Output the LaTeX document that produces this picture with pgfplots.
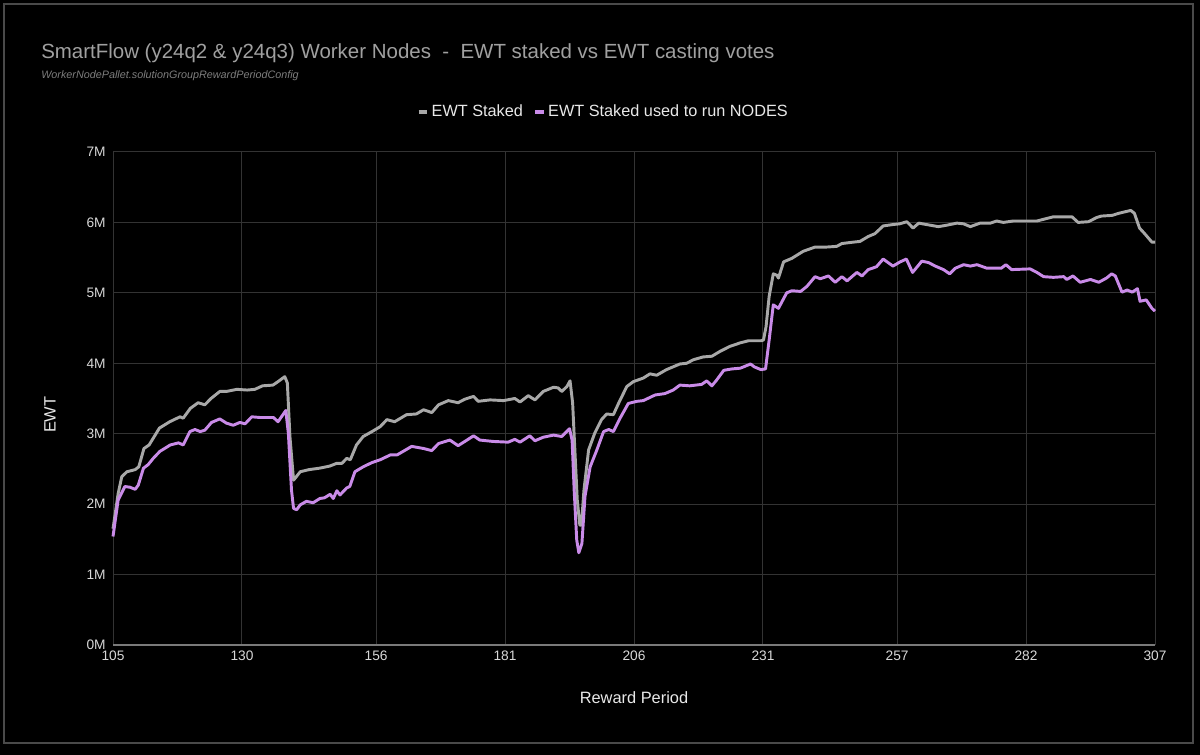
\documentclass[border=0pt]{standalone}
\usepackage{fontspec}
\setmainfont{Liberation Sans}
\usepackage{pgfplots}
\pgfplotsset{compat=1.18}
\definecolor{frameline}{HTML}{4A4A4A}
\definecolor{gridc}{HTML}{333333}
\definecolor{zeroline}{HTML}{7A7A7A}
\definecolor{stakegray}{HTML}{A8A8A8}
\definecolor{nodepurple}{HTML}{C98BE8}
\definecolor{titlegray}{HTML}{A0A0A0}
\definecolor{subgray}{HTML}{7E7E7E}
\definecolor{textc}{HTML}{E8E8E8}
\definecolor{tickc}{HTML}{D8D8D8}

\pgfplotstableread{
p v
105 1.65
106 2.15
106.7 2.39
107.7 2.46
109.3 2.49
110 2.53
111 2.79
112 2.84
114 3.08
116 3.17
118 3.24
118.6 3.22
120 3.36
121.5 3.44
122.8 3.41
124 3.50
125.7 3.60
127 3.60
129 3.63
131 3.62
132.5 3.63
134 3.68
136 3.69
137 3.74
138.3 3.81
138.8 3.72
139.3 2.96
140 2.34
141.3 2.46
143 2.49
145 2.51
147 2.54
148.4 2.58
149.4 2.58
150.3 2.65
151 2.63
152.2 2.84
153.5 2.96
155.2 3.03
156.8 3.10
158.1 3.20
159.6 3.17
161.9 3.27
163.8 3.28
165.2 3.34
166.8 3.30
168.1 3.41
170 3.47
171.9 3.44
173.2 3.49
174.9 3.53
175.8 3.46
178.1 3.48
180.7 3.47
182.9 3.50
183.9 3.45
185.5 3.54
186.8 3.48
188.4 3.60
190.4 3.66
191.3 3.65
192 3.60
193 3.67
193.6 3.75
194.1 3.44
194.6 2.67
195 2.06
195.5 1.70
195.8 1.70
196.3 2.20
197.2 2.77
198.4 3.01
199.7 3.20
200.7 3.28
202 3.27
203 3.43
204.6 3.67
205.9 3.74
207.8 3.79
209.1 3.85
210.4 3.83
212.3 3.91
213.6 3.95
214.9 3.99
216.2 4.00
217.5 4.05
219.4 4.09
221.1 4.10
222.7 4.17
224.6 4.24
226.6 4.29
228.2 4.32
230.6 4.32
231.1 4.33
231.6 4.52
232.2 4.95
233 5.27
233.7 5.25
234 5.21
235 5.44
236.6 5.49
238.8 5.59
241.1 5.65
243.3 5.65
245.3 5.66
246.3 5.70
248.5 5.72
249.8 5.73
251.4 5.80
252.7 5.84
254.3 5.95
256.2 5.97
257.5 5.98
258.9 6.01
260.1 5.92
261.2 5.99
262.7 5.97
265 5.94
266.6 5.96
268.6 5.99
269.9 5.98
271.2 5.94
273.1 5.99
275.1 5.99
276.3 6.02
277.6 6.00
279.5 6.02
281.5 6.02
284.1 6.02
285.7 6.05
287.3 6.08
289.3 6.08
290.9 6.08
292.1 6.00
294.1 6.01
295.7 6.07
296.6 6.09
298.7 6.10
300 6.13
302.3 6.17
303 6.13
304 5.92
305 5.84
306.4 5.72
307 5.72
}\staked

\pgfplotstableread{
p v
105 1.54
106 2.06
107.3 2.25
108.3 2.24
109.3 2.21
109.9 2.27
110.9 2.51
111.8 2.56
112.8 2.65
114.1 2.75
115 2.79
116.1 2.84
117.7 2.87
118.6 2.84
119.9 3.03
120.9 3.06
121.9 3.03
122.8 3.05
124.1 3.16
125.7 3.21
127 3.15
128.3 3.12
129.6 3.16
130.6 3.14
131.9 3.24
133.5 3.23
136.1 3.23
137 3.17
138.5 3.33
139 3.00
139.6 2.20
140 1.94
140.6 1.92
141.3 1.99
142.5 2.04
143.8 2.02
145.1 2.08
146 2.09
147.1 2.14
147.7 2.08
148.4 2.19
149 2.13
150.3 2.23
150.9 2.25
151.9 2.46
153.5 2.53
155.2 2.59
156.8 2.63
158.8 2.70
160.1 2.70
162.9 2.82
165.2 2.79
166.8 2.76
168.1 2.86
170.3 2.91
171.9 2.83
173.2 2.89
174.9 2.97
176.1 2.91
178.7 2.89
181.6 2.88
182.9 2.92
183.9 2.88
185.8 2.97
186.8 2.90
188.4 2.95
190.4 2.98
192 2.96
193.5 3.07
194 2.91
194.4 2.20
194.9 1.49
195.3 1.31
195.9 1.44
196.5 2.11
197.5 2.53
198.8 2.77
200.1 3.03
201.1 3.06
202 3.03
203.3 3.22
204.9 3.43
206.6 3.46
207.8 3.47
210.1 3.55
212 3.57
213.6 3.62
214.9 3.69
216.8 3.68
219.1 3.70
220.1 3.75
221.1 3.68
222 3.76
223.4 3.90
225 3.92
226.6 3.93
228.6 3.99
229.3 3.95
230.6 3.91
231.5 3.92
232.2 4.33
233 4.83
234 4.78
235.6 5.00
236.6 5.03
238.3 5.02
239.5 5.09
241.1 5.23
242.1 5.20
243.7 5.24
245 5.15
246.3 5.23
247.3 5.17
249.2 5.29
250.2 5.24
251.4 5.33
253 5.37
254.3 5.48
256.2 5.38
257.6 5.44
258.8 5.48
260 5.29
261.8 5.45
263.1 5.43
264.4 5.38
266 5.33
267.2 5.27
268.3 5.35
269.9 5.40
271.2 5.38
272.5 5.40
274.4 5.35
276.3 5.35
277.2 5.35
278.1 5.40
279.2 5.33
282.8 5.34
284.1 5.29
285.4 5.23
287.3 5.22
289.3 5.23
289.9 5.19
291.1 5.24
292.5 5.15
294.5 5.19
296.1 5.15
297.6 5.21
298.6 5.27
299.3 5.24
300.6 5.01
301.6 5.04
302.6 5.01
303.6 5.06
304.1 4.88
305.3 4.90
306.4 4.78
307 4.74
}\nodes

\begin{document}
\begin{tikzpicture}
\useasboundingbox (0pt,0pt) rectangle (900pt,566.25pt);
\fill[black] (0pt,0pt) rectangle (900pt,566.25pt);
\draw[frameline, line width=1.5pt] (3pt,9pt) rectangle (894.75pt,563.25pt);
\node[anchor=base west, inner sep=0pt, text=titlegray, font=\fontsize{15.35}{18}\selectfont]
  at (30.75pt,522.5pt) {SmartFlow (y24q2 \& y24q3) Worker Nodes\ \ -\ \ EWT staked vs EWT casting votes};
\node[anchor=base west, inner sep=0pt, text=subgray, font=\fontsize{8.1}{9.5}\selectfont\itshape]
  at (30.75pt,507pt) {WorkerNodePallet.solutionGroupRewardPeriodConfig};
\begin{axis}[
  at={(84.75pt,82.5pt)}, anchor=south west,
  scale only axis, width=781.5pt, height=369.75pt,
  xmin=105, xmax=307, ymin=0, ymax=7,
  xtick={105,130,156,181,206,231,257,282,307},
  xticklabels={105,130,156,181,206,231,257,282,307},
  ytick={0,1,2,3,4,5,6,7},
  yticklabels={0M,1M,2M,3M,4M,5M,6M,7M},
  extra y ticks={0}, extra y tick labels={},
  extra y tick style={grid style={zeroline, line width=1.5pt}},
  major tick length=0pt,
  grid=major,
  grid style={gridc, line width=0.75pt},
  axis line style={draw=none},
  tick label style={text=tickc, font=\fontsize{10.3}{12}\selectfont},
  xticklabel style={yshift=-1pt},
  yticklabel style={xshift=-2pt},
  xlabel={Reward Period},
  ylabel={EWT},
  label style={text=textc, font=\fontsize{12.3}{14}\selectfont},
  xlabel style={at={(axis description cs:0.5,-0.1075)}, anchor=center},
  ylabel style={at={(axis description cs:-0.0605,0.467)}, anchor=center},
  legend columns=2,
  legend style={at={(0.471,1)}, anchor=center, yshift=30pt, draw=none, fill=none,
    text=textc, font=\fontsize{12.2}{14}\selectfont,
    /tikz/every even column/.append style={column sep=6pt}},
  legend image code/.code={\draw[#1, line width=2.4pt, line cap=butt] (0pt,0pt) -- (6.5pt,0pt);},
  clip=false,
]
\addplot[stakegray, line width=2.2pt, line join=round] table[x=p, y=v] {\staked};
\addlegendentry{EWT Staked}
\addplot[nodepurple, line width=2.2pt, line join=round] table[x=p, y=v] {\nodes};
\addlegendentry{EWT Staked used to run NODES}
\end{axis}
\end{tikzpicture}
\end{document}
